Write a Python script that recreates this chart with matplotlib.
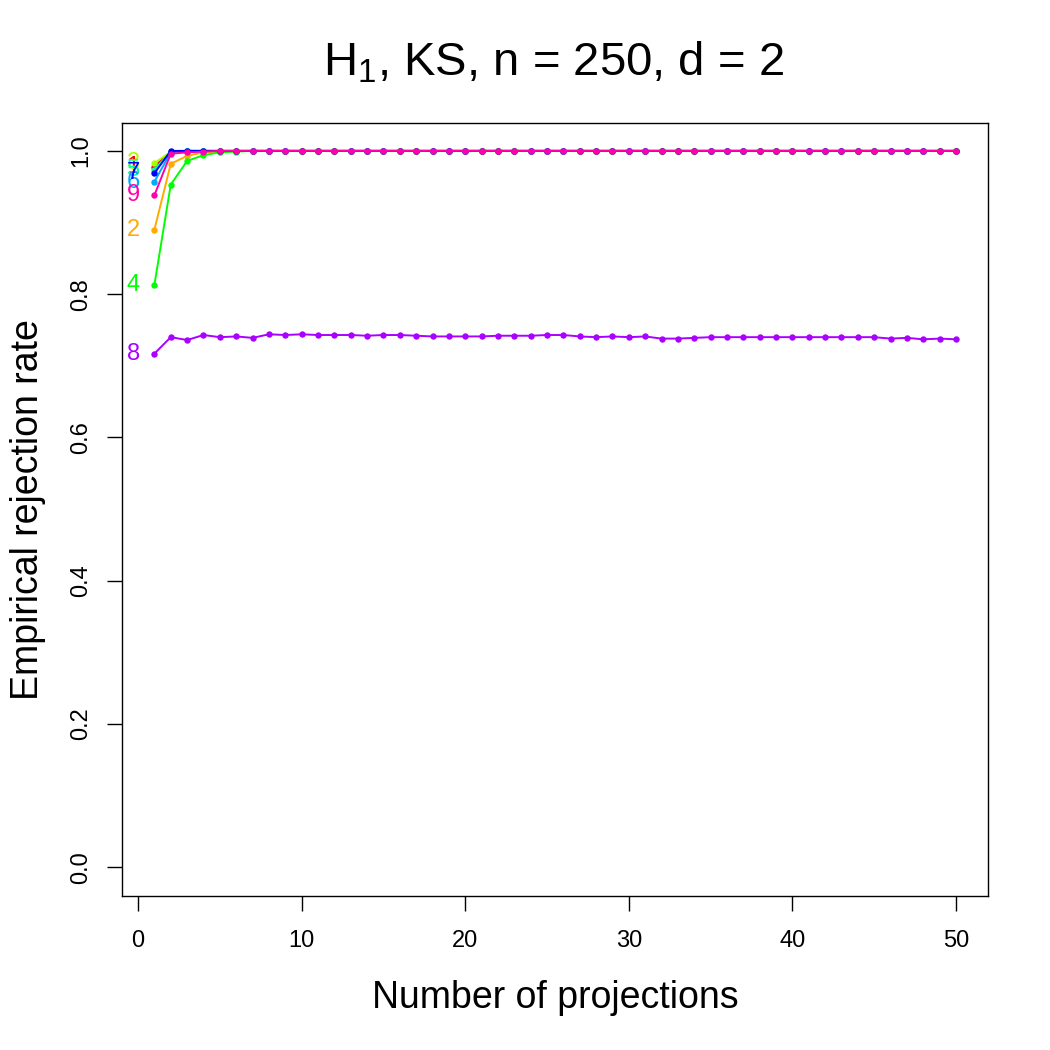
import matplotlib
matplotlib.use("Agg")
import matplotlib.pyplot as plt
import numpy as np

plt.rcParams['font.family'] = ['Liberation Sans', 'DejaVu Sans']
plt.rcParams['mathtext.fontset'] = 'custom'
plt.rcParams['mathtext.rm'] = 'Liberation Sans'
plt.rcParams['mathtext.it'] = 'Liberation Sans'

projections = list(range(1, 51))
series_labels = ["1", "2", "3", "4", "5", "6", "7", "8", "9"]
colors = ["#FF0000", "#FFAA00", "#AAFF00", "#00FF00", "#00FFAA",
          "#00AAFF", "#0000FF", "#AA00FF", "#FF00AA"]

s1 = [0.978, 0.999] + [1.0] * 48
s2 = [0.890, 0.982, 0.993, 0.998, 0.999] + [1.0] * 45
s3 = [0.983, 0.999] + [1.0] * 48
s4 = [0.813, 0.953, 0.986, 0.994, 0.998, 0.999] + [1.0] * 44
s5 = [0.974, 0.999] + [1.0] * 48
s6 = [0.957, 0.998] + [1.0] * 48
s7 = [0.969, 1.0] + [1.0] * 48
s8 = [0.717, 0.740, 0.736, 0.743, 0.740, 0.741, 0.739, 0.744, 0.743, 0.744,
      0.743, 0.743, 0.743, 0.742, 0.743, 0.743, 0.742, 0.741, 0.741, 0.741,
      0.741, 0.742, 0.742, 0.742, 0.743, 0.743, 0.741, 0.740, 0.741, 0.740,
      0.741, 0.738, 0.738, 0.739, 0.740, 0.740, 0.740, 0.740, 0.740, 0.740,
      0.740, 0.740, 0.740, 0.740, 0.740, 0.738, 0.739, 0.737, 0.738, 0.737]
s9 = [0.938, 0.996, 0.998, 0.999] + [1.0] * 46
all_series = [s1, s2, s3, s4, s5, s6, s7, s8, s9]

fig = plt.figure(figsize=(10.5, 10.5), dpi=100)
ax = fig.add_axes([0.1162, 0.1467, 0.8248, 0.7362])

for lab, col, vals in zip(series_labels, colors, all_series):
    ax.plot(projections, vals, color=col, lw=1.4, marker='o', ms=4.6,
            markeredgewidth=0, zorder=3)
    ax.text(-0.3, vals[0], lab, color=col, fontsize=17, ha='center',
            va='center', zorder=4)

ax.set_xlim(-0.98, 51.96)
ax.set_ylim(-0.04, 1.039)
ax.set_xticks([0, 10, 20, 30, 40, 50])
ax.set_yticks([0.0, 0.2, 0.4, 0.6, 0.8, 1.0])
ax.set_yticklabels(["0.0", "0.2", "0.4", "0.6", "0.8", "1.0"], rotation=90,
                   va='center')
ax.tick_params(axis='both', direction='out', length=10.8, width=1.0,
               labelsize=17)
ax.tick_params(axis='x', pad=14)
ax.tick_params(axis='y', pad=10.5)
for sp in ax.spines.values():
    sp.set_linewidth(1.0)

ax.set_xlabel("Number of projections", fontsize=27, va='center')
ax.xaxis.set_label_coords(0.5, -0.132)
ax.set_ylabel("Empirical rejection rate", fontsize=27, va='center')
ax.yaxis.set_label_coords(-0.109, 0.5)
fig.text(0.527, 0.94, r"$\mathregular{H_1}$, KS, n = 250, d = 2",
         fontsize=34, ha='center', va='center')

fig.savefig("out.png", dpi=100)
